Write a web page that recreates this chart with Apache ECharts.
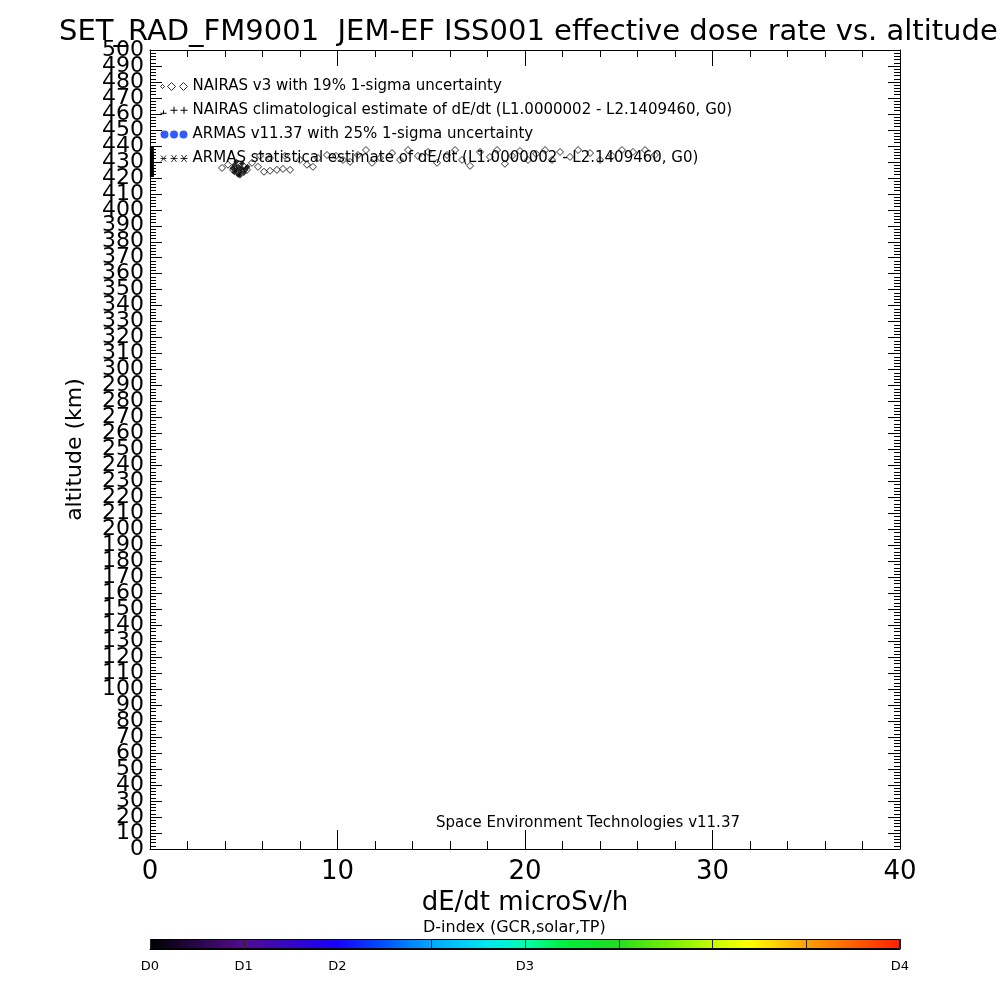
<!DOCTYPE html>
<html><head><meta charset="utf-8">
<script src="https://cdn.jsdelivr.net/npm/echarts@6/dist/echarts.min.js"></script>
<style>html,body{margin:0;padding:0;background:#fff}#c{width:1000px;height:1000px}</style>
</head><body><div id="c"></div>
<script>
const titleText = 'SET_RAD_FM9001  JEM-EF ISS001 effective dose rate vs. altitude';
const footerText = 'Space Environment Technologies v11.37';
const cbTitle = 'D-index (GCR,solar,TP)';
const xName = 'dE/dt microSv/h';
const yName = 'altitude (km)';
const seriesNames = [
  'NAIRAS v3 with 19% 1-sigma uncertainty',
  'NAIRAS climatological estimate of dE/dt (L1.0000002 - L2.1409460, G0)',
  'ARMAS v11.37 with 25% 1-sigma uncertainty',
  'ARMAS statistical estimate of dE/dt (L1.0000002 - L2.1409460, G0)'
];
// NAIRAS v3 (hollow diamonds)
const nairasX = [3.84,4.16,4.43,4.69,4.96,5.17,5.44,5.76,6.08,6.40,6.77,7.09,7.47,5.87,6.40,7.20,8.00,8.37,8.69,8.96,
  9.44,9.92,10.29,10.67,11.09,11.52,11.84,12.27,12.91,13.33,13.76,14.29,14.83,15.31,15.84,16.27,16.64,17.07,17.60,18.13,
  18.51,18.93,19.31,19.73,20.16,20.59,21.07,21.44,21.87,22.40,22.83,23.47,24.00,24.64,25.17,25.76,26.40,26.93];
const nairasAlt = [426.2,428.2,425.0,423.8,427.5,425.0,429.4,426.9,423.8,424.4,425.0,425.6,425.0,433.7,432.4,433.7,431.2,428.2,426.9,432.4,
  434.3,433.7,431.2,430.0,434.3,437.4,429.4,432.4,435.5,431.2,437.4,433.7,436.2,429.4,434.3,437.4,431.2,427.5,436.2,433.1,
  437.4,428.8,433.7,436.8,431.2,435.0,437.4,431.2,436.2,433.1,437.4,435.5,431.2,433.7,437.4,436.2,437.4,434.3];
// NAIRAS climatological estimate (vertical range at x ~ 0)
const climX = [0.1];
const climLo = [420.5];
const climHi = [439.5];
// ARMAS v11.37 (no points visible)
const armasX = [];
const armasAlt = [];
// ARMAS statistical estimate (dense cluster)
const statX = [4.5,4.6,4.7,4.8,4.9,5.0,4.4,4.7,5.1,4.6,4.9,5.2,4.8,4.5];
const statAlt = [428.0,425.0,427.0,424.0,426.0,423.0,426.0,422.0,425.0,430.0,429.0,427.0,421.5,423.5];
// axis end labels
const yEndLabels = [0, 500];
// colour bar tick labels
const cbLabels = ['D0','D1','D2','','D3','','','','D4'];
const cbStops = [
  [0,'#000000'],[0.125,'#520c8e'],[0.25,'#1800ff'],[0.31,'#0050ff'],[0.375,'#00a8ff'],[0.45,'#00e8f0'],
  [0.5,'#00ffb0'],[0.55,'#00f040'],[0.62,'#20dc20'],[0.7,'#80f000'],[0.76,'#d0ff00'],[0.8,'#ffff00'],
  [0.85,'#ffc000'],[0.875,'#ffa000'],[1,'#ff2000']
];

const FF = 'DejaVu Sans';
const chart = echarts.init(document.getElementById('c'));
const zip = (a,b)=>a.map((v,i)=>[v,b[i]]);

const iconDiamonds = 'path://M0,5L2,3L4,5L2,7Z M7,5L11,1L15,5L11,9Z M19,5L23,1L27,5L23,9Z';
const iconPlus = 'path://M0,8L6,8M3,5L3,9 M10,5L17,5M13.5,1.5L13.5,8.5 M20,5L27,5M23.5,1.5L23.5,8.5';
const iconDots = 'path://M0,5a4,4 0 1,0 8,0a4,4 0 1,0 -8,0Z M9.5,5a4,4 0 1,0 8,0a4,4 0 1,0 -8,0Z M19,5a4,4 0 1,0 8,0a4,4 0 1,0 -8,0Z';
const iconStars = 'path://M0,5L6,5M0.5,2L5.5,8M0.5,8L5.5,2 M10,5L17,5M11,1.5L16,8.5M11,8.5L16,1.5 M20,5L27,5M21,1.5L26,8.5M21,8.5L26,1.5';

const hollow = {color:'rgba(0,0,0,0)', borderColor:'#000', borderWidth:1};
const axLine = {show:true, onZero:false, lineStyle:{color:'#000', width:1}};

chart.setOption({
  backgroundColor:'#fff',
  animation:false,
  textStyle:{fontFamily:FF, color:'#000'},
  title:[
    {text:titleText, left:54, top:13, textStyle:{fontFamily:FF, fontSize:29, fontWeight:'normal', color:'#000'}},
    {text:footerText, left:431, top:811, textStyle:{fontFamily:FF, fontSize:15, fontWeight:'normal', color:'#000'}},
    {text:cbTitle, left:418, top:915, textStyle:{fontFamily:FF, fontSize:16, fontWeight:'normal', color:'#000'}}
  ],
  legend:{
    orient:'vertical', left:155, top:74, itemWidth:27, itemHeight:9, itemGap:9,
    textStyle:{fontFamily:FF, fontSize:15, color:'#000', lineHeight:15},
    selectedMode:false,
    data:[
      {name:seriesNames[0], icon:iconDiamonds, itemStyle:hollow},
      {name:seriesNames[1], icon:iconPlus, itemStyle:hollow},
      {name:seriesNames[2], icon:iconDots, itemStyle:{color:'#0033ff', borderWidth:0}},
      {name:seriesNames[3], icon:iconStars, itemStyle:hollow}
    ]
  },
  grid:[
    {left:150, right:100, top:50, bottom:151, show:false},
    {left:150, width:750, top:939, height:10, show:false}
  ],
  xAxis:[
    {type:'value', gridIndex:0, min:0, max:40, interval:10, position:'bottom',
      name:xName, nameLocation:'middle', nameGap:35, nameTextStyle:{fontFamily:FF, fontSize:26, color:'#000'},
      axisLine:axLine,
      axisTick:{show:true, inside:true, length:19, lineStyle:{color:'#000'}},
      minorTick:{show:true, splitNumber:5, length:8, lineStyle:{color:'#000'}},
      axisLabel:{fontFamily:FF, fontSize:26, color:'#000', margin:10, showMinLabel:true, showMaxLabel:true},
      splitLine:{show:false}},
    {type:'value', gridIndex:0, min:0, max:40, interval:10, position:'top',
      axisLine:axLine,
      axisTick:{show:true, inside:true, length:16, lineStyle:{color:'#000'}},
      minorTick:{show:true, splitNumber:5, length:7, lineStyle:{color:'#000'}},
      axisLabel:{show:false}, splitLine:{show:false}},
    {type:'value', gridIndex:1, min:0, max:8, interval:1, position:'bottom', z:10,
      axisLine:axLine,
      axisTick:{show:true, inside:true, length:10, lineStyle:{color:'#222'}},
      axisLabel:{fontFamily:FF, fontSize:13, color:'#000', margin:11, showMinLabel:true, showMaxLabel:true,
        formatter:(v)=>cbLabels[Math.round(v)] || ''},
      splitLine:{show:false}}
  ],
  yAxis:[
    {type:'value', gridIndex:0, min:0, max:500, interval:10, position:'left',
      name:yName, nameLocation:'middle', nameGap:64, nameRotate:90,
      nameTextStyle:{fontFamily:FF, fontSize:22, color:'#000'},
      axisLine:axLine,
      axisTick:{show:true, inside:true, length:12, lineStyle:{color:'#000'}},
      minorTick:{show:true, splitNumber:5, length:6, lineStyle:{color:'#000'}},
      axisLabel:{fontFamily:FF, fontSize:22, color:'#000', margin:6, showMinLabel:false, showMaxLabel:false, hideOverlap:false},
      splitLine:{show:false}},
    {type:'value', gridIndex:0, min:0, max:500, interval:10, position:'right',
      axisLine:axLine,
      axisTick:{show:true, inside:true, length:12, lineStyle:{color:'#000'}},
      minorTick:{show:true, splitNumber:5, length:6, lineStyle:{color:'#000'}},
      axisLabel:{show:false}, splitLine:{show:false}},
    {type:'category', gridIndex:1, data:['D'], show:false},
    {type:'value', gridIndex:0, min:0, max:500, interval:10, position:'left', offset:0,
      axisLine:{show:false}, axisTick:{show:false}, splitLine:{show:false},
      axisLabel:{fontFamily:FF, fontSize:22, color:'#000', margin:6, showMinLabel:true, showMaxLabel:true, hideOverlap:false,
        formatter:(v)=>yEndLabels.indexOf(v) >= 0 ? String(v) : ''}}
  ],
  series:[
    {name:seriesNames[0], type:'scatter', xAxisIndex:0, yAxisIndex:0, symbol:'diamond', symbolSize:7,
      itemStyle:hollow, data:zip(nairasX, nairasAlt), z:3},
    {name:seriesNames[1], type:'custom', xAxisIndex:0, yAxisIndex:0,
      data:climX.map((x,i)=>[x, climLo[i], climHi[i]]),
      itemStyle:hollow,
      renderItem:(params, api)=>{
        const p1 = api.coord([api.value(0), api.value(1)]);
        const p2 = api.coord([api.value(0), api.value(2)]);
        return {type:'line', shape:{x1:p1[0], y1:p1[1], x2:p2[0], y2:p2[1]}, style:{stroke:'#000', lineWidth:4}};
      }, z:3},
    {name:seriesNames[2], type:'scatter', xAxisIndex:0, yAxisIndex:0, symbol:'circle', symbolSize:7,
      itemStyle:{color:'#0033ff'}, data:zip(armasX, armasAlt)},
    {name:seriesNames[3], type:'scatter', xAxisIndex:0, yAxisIndex:0, symbol:'diamond', symbolSize:6,
      itemStyle:{color:'#000'}, data:zip(statX, statAlt), z:4},
    {type:'bar', xAxisIndex:2, yAxisIndex:2, data:[8], barWidth:10, silent:true,
      itemStyle:{borderColor:'#000', borderWidth:1,
        color:new echarts.graphic.LinearGradient(0,0,1,0, cbStops.map(s=>({offset:s[0], color:s[1]})))}}
  ]
});
</script></body></html>
